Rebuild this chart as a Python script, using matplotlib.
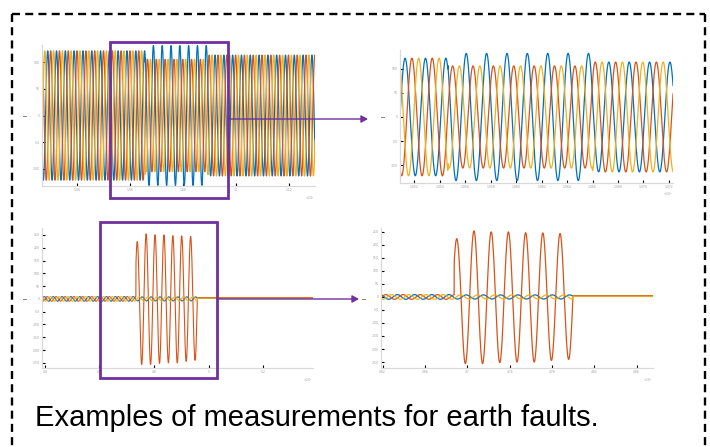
import numpy as np
import matplotlib
matplotlib.use("Agg")
import matplotlib.pyplot as plt
from matplotlib.lines import Line2D
from matplotlib.patches import Rectangle, FancyArrowPatch

# ---------------- data ----------------
freq_hz = 50.0
period_ms = 1000.0 / freq_hz
phase_colors = ["#0072BD", "#D95319", "#EDB120"]
phase_shift_deg = [0.0, -120.0, -240.0]

# top row: phase signals (amplitudes per segment)
top_time_range = [0.0, 620.0]
top_fault = [235.0, 377.0]
top_peak_ref = 13.0                  # ms, peak of first phase
top_amp_pre = [122.0, 122.0, 122.0]
top_amp_fault = [132.0, 106.0, 106.0]
top_amp_post = [114.0, 114.0, 114.0]

# bottom row: earth-fault currents
bot_time_range = [0.0, 609.0]
bot_fault = [211.0, 349.0]
bot_peak_ref = 5.0
bot_amp_pre = [9.0, 9.0, 9.0]
bot_amp_fault_small = [8.0, 8.0, 8.0]
bot_fault_phase = 1                  # orange phase carries fault current
bot_fault_peak = 214.0
bot_fault_halfcycle_amp = [224, 256, 254, 256, 250, 252, 250, 250,
                           247, 250, 246, 244, 244, 240]
bot_post_level = [2.0, 5.0, 2.5]

# axes settings
xlim_A = [0.0, 620.0]
xlim_B = [188.0, 456.0]
xlim_C = [0.0, 609.0]
xlim_D = [126.0, 442.0]
ylim_A = [-133.0, 133.0]
ylim_B = [-137.0, 139.0]
ylim_C = [-270.0, 277.0]
ylim_D = [-273.0, 265.0]
xticks_A = [80, 200, 320, 440, 560]
xticklabels_A = ["1.04", "1.06", "1.08", "1.1", "1.12"]
xticks_B = [202 + 25 * k for k in range(11)]
xticklabels_B = ["1.052", "1.054", "1.056", "1.058", "1.060", "1.062",
                 "1.064", "1.066", "1.068", "1.070", "1.072"]
xticks_C = [7, 128, 252, 375, 497]
xticklabels_C = ["4.4", "4.6", "4.8", "5", "5.2"]
xticks_D = [128, 177, 226, 276, 325, 374, 423]
xticklabels_D = ["4.62", "4.66", "4.7", "4.74", "4.78", "4.82", "4.86"]
yticks_top = [-100, -50, 0, 50, 100]
yticks_bot = [-250, -200, -150, -100, -50, 0, 50, 100, 150, 200, 250]

caption = "Examples of measurements for earth faults."

# ---------------- signals ----------------
def top_signals(t):
    sigs = []
    for i in range(3):
        ph = 2 * np.pi * (t - top_peak_ref) / period_ms + np.deg2rad(phase_shift_deg[i])
        amp = np.where(t < top_fault[0], top_amp_pre[i],
                       np.where(t < top_fault[1], top_amp_fault[i], top_amp_post[i]))
        sigs.append(amp * np.cos(ph))
    return sigs


def bot_signals(t):
    sigs = []
    amps_half = np.array(bot_fault_halfcycle_amp, dtype=float)
    for i in range(3):
        ph = 2 * np.pi * (t - bot_peak_ref) / period_ms + np.deg2rad(phase_shift_deg[i])
        pre = bot_amp_pre[i] * np.cos(ph)
        if i == bot_fault_phase:
            k = np.floor((t - bot_fault_peak + period_ms / 4) / (period_ms / 2)).astype(int)
            k = np.clip(k, 0, len(amps_half) - 1)
            fault = amps_half[k] * np.cos(2 * np.pi * (t - bot_fault_peak) / period_ms)
        else:
            fault = bot_amp_fault_small[i] * np.cos(ph)
        post = np.full_like(t, bot_post_level[i])
        s = np.where(t < bot_fault[0], pre, np.where(t < bot_fault[1], fault, post))
        sigs.append(s)
    return sigs


t_top = np.arange(top_time_range[0], top_time_range[1] + 0.01, 0.05)
t_bot = np.arange(bot_time_range[0], bot_time_range[1] + 0.01, 0.05)
sig_top = top_signals(t_top)
sig_bot = bot_signals(t_bot)

# ---------------- figure ----------------
W, H = 710, 447
fig = plt.figure(figsize=(W / 100, H / 100), dpi=100)
fig.patch.set_facecolor("white")


def fx(px):
    return px / W


def fy(py):
    return 1 - py / H


def add_axes_px(left, top, right, bottom):
    return fig.add_axes([fx(left), fy(bottom), (right - left) / W, (bottom - top) / H])


def style_axes(ax, xlim, ylim, xticks, xticklabels, yticks, lw):
    ax.set_xlim(xlim)
    ax.set_ylim(ylim)
    for s in ["top", "right"]:
        ax.spines[s].set_visible(False)
    for s in ["left", "bottom"]:
        ax.spines[s].set_color("#d9d9d9")
        ax.spines[s].set_linewidth(0.9)
    ax.set_xticks(xticks)
    ax.set_xticklabels(xticklabels)
    ax.set_yticks(yticks)
    ax.set_yticklabels([str(v) for v in yticks])
    ax.tick_params(direction="in", length=2.2, width=0.8, color="black",
                   labelsize=2.2, labelcolor="#9a9a9a", pad=1.5)
    ax.set_ylabel("I", fontsize=3.5, rotation=90, labelpad=3)
    ax.text(1.0, -0.06, "$\\times10^4$", transform=ax.transAxes,
            fontsize=2.2, color="#9a9a9a", ha="right", va="top")
    ax.patch.set_alpha(0)


def plot_signals(ax, t, sigs, lw):
    for s, c in zip(sigs, phase_colors):
        ax.plot(t, s, color=c, lw=lw, solid_joinstyle="round")


axA = add_axes_px(42, 45, 315, 186)
plot_signals(axA, t_top, sig_top, 0.9)
style_axes(axA, xlim_A, ylim_A, xticks_A, xticklabels_A, yticks_top, 0.9)

axB = add_axes_px(400, 50, 673, 183)
plot_signals(axB, t_top, sig_top, 0.9)
style_axes(axB, xlim_B, ylim_B, xticks_B, xticklabels_B, yticks_top, 0.9)

axC = add_axes_px(42, 228, 313, 368)
plot_signals(axC, t_bot, sig_bot, 0.8)
style_axes(axC, xlim_C, ylim_C, xticks_C, xticklabels_C, yticks_bot, 0.8)

axD = add_axes_px(381, 228, 653, 368)
plot_signals(axD, t_bot, sig_bot, 0.9)
style_axes(axD, xlim_D, ylim_D, xticks_D, xticklabels_D, yticks_bot, 0.9)

# ---------------- annotations ----------------
purple = "#7030A0"


def rect_px(x0, y0, x1, y1):
    r = Rectangle((fx(x0), fy(y1)), (x1 - x0) / W, (y1 - y0) / H,
                  transform=fig.transFigure, fill=False, ec=purple, lw=2.0, zorder=10)
    fig.add_artist(r)


def arrow_px(x0, x1, y):
    a = FancyArrowPatch((fx(x0), fy(y)), (fx(x1), fy(y)), transform=fig.transFigure,
                        arrowstyle="-|>,head_length=4,head_width=2.2", color=purple,
                        lw=1.0, mutation_scale=1, shrinkA=0, shrinkB=0, zorder=10)
    fig.add_artist(a)


rect_px(110, 42, 228, 198)
arrow_px(228, 368, 119)
rect_px(100, 222, 217, 378)
arrow_px(217, 359, 299)

# dashed border (bottom edge lies outside the picture)
border_kw = dict(transform=fig.transFigure, color="black", lw=1.7,
                 linestyle=(0, (3.4, 2.2)), zorder=11)
fig.add_artist(Line2D([fx(12), fx(12)], [fy(14), fy(460)], **border_kw))
fig.add_artist(Line2D([fx(12), fx(705)], [fy(14), fy(14)], **border_kw))
fig.add_artist(Line2D([fx(705), fx(705)], [fy(14), fy(460)], **border_kw))

fig.text(fx(35), fy(426), caption, fontsize=21, color="black",
         family=["Liberation Sans", "DejaVu Sans"], ha="left", va="baseline")

fig.savefig("out.png", dpi=100, facecolor="white")
